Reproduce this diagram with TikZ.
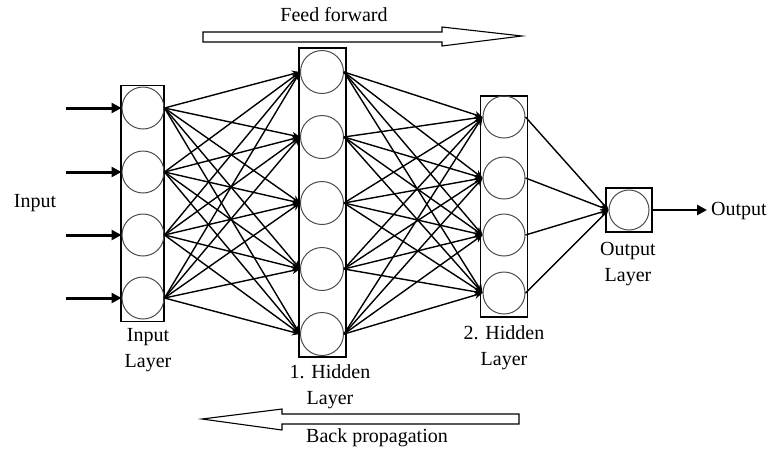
\documentclass[tikz,border=0pt]{standalone}
\usepackage{fontspec}
\setmainfont{Liberation Serif}
\usetikzlibrary{arrows.meta}
\begin{document}
\begin{tikzpicture}[x=1pt,y=-1pt,
  neuron/.style={circle,draw=black!70,line width=1pt,minimum size=42pt,inner sep=0pt},
  layerbox/.style={draw,line width=1.5pt,inner sep=0pt},
  conn/.style={line width=1.4pt,-{Stealth[length=8pt,width=7pt]}},
  inarrow/.style={line width=3pt,-{Triangle[length=10pt,width=10pt]}},
  lbl/.style={font=\fontsize{20}{26}\selectfont,align=center,inner sep=0pt},
  blockarrow/.style={draw,line width=1.1pt,fill=white,line join=miter}]
\useasboundingbox (0,0) rectangle (773,456);
% layer boxes
\node[layerbox,minimum width=43pt,minimum height=236pt] (ibox) at (142.5,203.5) {};
\node[layerbox,minimum width=47pt,minimum height=309pt] (hbox) at (322.5,202.5) {};
\node[layerbox,minimum width=47pt,minimum height=221pt] (gbox) at (504,206.5) {};
\node[layerbox,minimum width=46pt,minimum height=44pt] (obox) at (629,210) {};
% neurons
\foreach \n/\y in {1/108,2/172,3/235,4/298}
  \node[neuron] (i\n) at (143,\y) {};
\foreach \n/\y in {1/72,2/137,3/203,4/269,5/334}
  \node[neuron,minimum size=43pt] (h\n) at (322,\y) {};
\foreach \n/\y in {1/117,2/178,3/235,4/293}
  \node[neuron] (g\n) at (504,\y) {};
\node[neuron,minimum size=40pt] (o1) at (629,210) {};
% connections
\foreach \a in {1,...,4}
  \foreach \b in {1,...,5}
    \draw[conn] (i\a.east) -- (h\b.west);
\foreach \a in {1,...,5}
  \foreach \b in {1,...,4}
    \draw[conn] (h\a.east) -- (g\b.west);
\foreach \a in {1,...,4}
  \draw[conn] (g\a.east) -- (o1.west);
% input arrows
\foreach \n/\y in {1/108,2/172,3/235,4/298} {
  \coordinate (in\n) at (66,\y);
  \draw[inarrow] (in\n) -- (i\n.west);
}
\coordinate (outend) at (707,210);
\draw[inarrow,line width=2.6pt] (obox.east) -- (outend);
% labels
\node[lbl] (tinput) at (35,203) {Input};
\node[lbl,anchor=west] (toutput) at (711,211) {Output};
\node[lbl] (til) at (148,350) {Input\\Layer};
\node[lbl] (th1) at (330,387) {1. Hidden\\Layer};
\node[lbl] (th2) at (504,348) {2. Hidden\\Layer};
\node[lbl] (tol) at (628,264) {Output\\Layer};
% feed forward block arrow
\draw[blockarrow] (203,32) -- (442,32) -- (442,27) -- (522,36) -- (442,46) -- (442,42) -- (203,42) -- cycle;
\node[lbl] (tff) at (334,15) {Feed forward};
% back propagation block arrow
\draw[blockarrow] (519,414) -- (282,414) -- (282,409) -- (202,419) -- (282,430) -- (282,424) -- (519,424) -- cycle;
\node[lbl] (tbp) at (377,438) {Back propagation};
\end{tikzpicture}
\end{document}
